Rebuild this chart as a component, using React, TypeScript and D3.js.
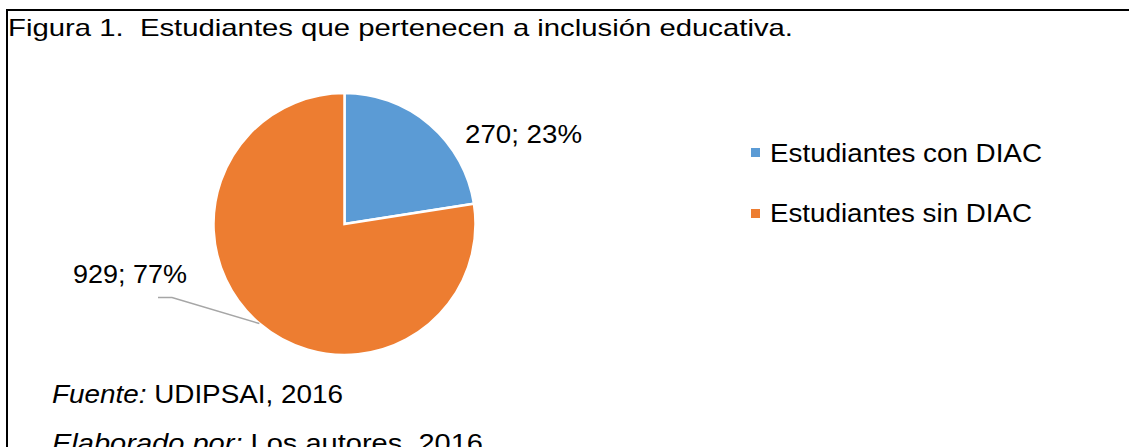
import React from "react";
import * as d3 from "d3";

const categories = ["Estudiantes con DIAC", "Estudiantes sin DIAC"];
const values = [270, 929];
const labels = ["270; 23%", "929; 77%"];
const colors = ["#5b9bd5", "#ed7d31"];
const titleText = "Figura 1.  Estudiantes que pertenecen a inclusión educativa.";

export default function App() {
  const W = 1129, H = 447;
  const cx = 344.5, cy = 224, R = 131;
  const pie = d3.pie<number>().sort(null).value((d) => d)(values);
  const arc = d3.arc<d3.PieArcDatum<number>>().innerRadius(0).outerRadius(R);
  const font = "'Liberation Sans', Arial, sans-serif";

  const orange = pie[1];
  const mid = (orange.startAngle + orange.endAngle) / 2;
  const ex = cx + R * Math.sin(mid);
  const ey = cy - R * Math.cos(mid);

  return (
    <svg width={W} height={H} style={{ position: "absolute", left: 0, top: 0, background: "#fff" }} fontFamily={font}>
      <rect x={0} y={0} width={W} height={H} fill="#fff" />
      <line x1={6} x2={W} y1={10} y2={10} stroke="#000" strokeWidth={2} />
      <line x1={7} x2={7} y1={9} y2={H} stroke="#000" strokeWidth={2} />
      <text x={8} y={36} fontSize={24} fill="#000" style={{ whiteSpace: "pre" }} textLength={785} lengthAdjust="spacingAndGlyphs">{titleText}</text>
      <g transform={`translate(${cx},${cy})`}>
        {pie.map((p, i) => (
          <path key={i} d={arc(p) || ""} fill={colors[i]} stroke="#fff" strokeWidth={2.5} strokeLinejoin="miter" />
        ))}
      </g>
      <text x={465} y={143} fontSize={25} fill="#000" textLength={117} lengthAdjust="spacingAndGlyphs">{labels[0]}</text>
      <text x={73} y={283} fontSize={25} fill="#000" textLength={114} lengthAdjust="spacingAndGlyphs">{labels[1]}</text>
      <polyline points={`158,297.5 172,297.5 ${ex},${ey}`} fill="none" stroke="#a6a6a6" strokeWidth={1.5} />
      {categories.map((c, i) => (
        <g key={c}>
          <rect x={751} y={148 + i * 61} width={9} height={9} fill={colors[i]} />
          <text x={770} y={162 + i * 60} fontSize={25} fill="#000" textLength={c.includes("con") ? 272 : 262} lengthAdjust="spacingAndGlyphs">{c}</text>
        </g>
      ))}
      <text x={52} y={403} fontSize={25} fill="#000" textLength={291} lengthAdjust="spacingAndGlyphs">
        <tspan fontStyle="italic">Fuente:</tspan> UDIPSAI, 2016
      </text>
      <text x={52} y={452} fontSize={25} fill="#000" textLength={431} lengthAdjust="spacingAndGlyphs">
        <tspan fontStyle="italic">Elaborado por:</tspan> Los autores, 2016
      </text>
    </svg>
  );
}
